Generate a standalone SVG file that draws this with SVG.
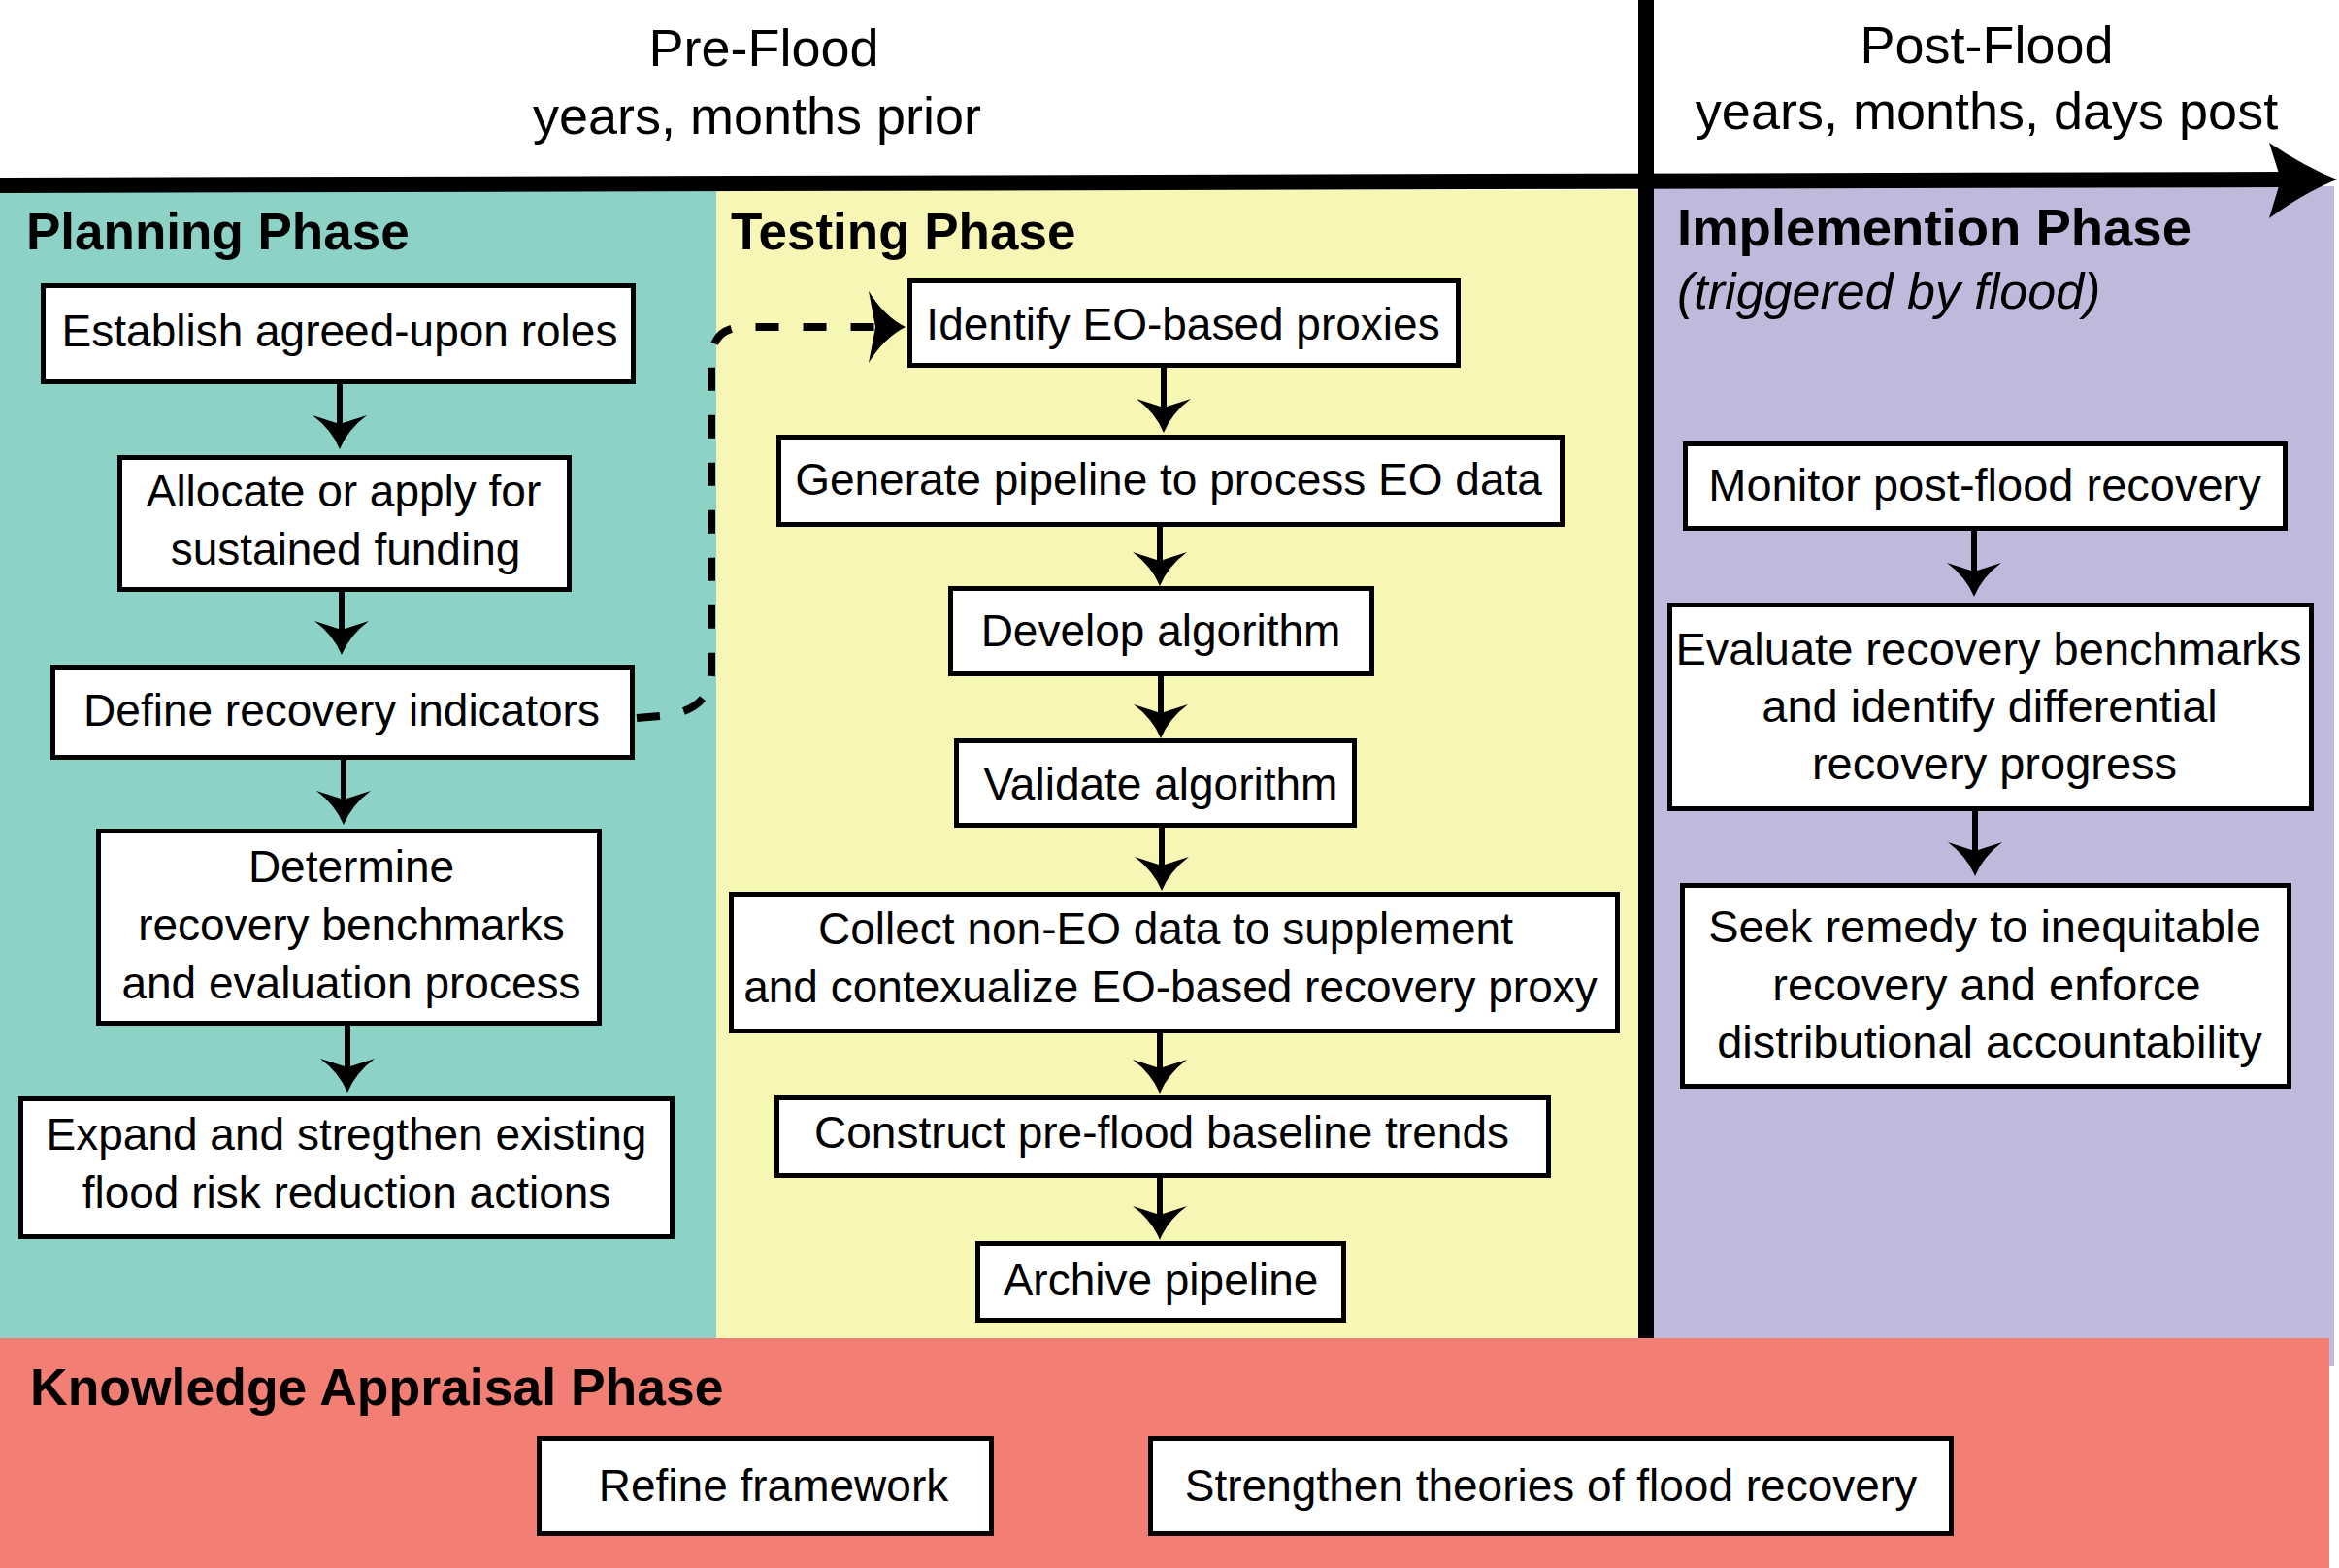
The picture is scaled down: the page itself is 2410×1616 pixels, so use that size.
<svg xmlns="http://www.w3.org/2000/svg" width="2410" height="1616" viewBox="0 0 2410 1616">
<style>
text { font-family: "Liberation Sans", Arial, sans-serif; fill: #000; }
.hdr { font-size: 54px; text-anchor: middle; }
.ph { font-size: 53px; font-weight: bold; }
.it { font-size: 52px; font-style: italic; }
.n rect { fill: #fff; stroke: #000; stroke-width: 5; }
.n text { font-size: 46px; text-anchor: middle; }
.imp text { font-size: 47px; }
#connectors line { stroke: #000; stroke-width: 6; marker-end: url(#ah); }
#connectors path.dash { fill: none; stroke: #000; stroke-width: 8; stroke-dasharray: 24 25; marker-end: url(#ahL); }
</style>
<defs>
<marker id="ah" markerUnits="userSpaceOnUse" viewBox="-38 -30 40 60" markerWidth="40" markerHeight="60" refX="-20" refY="0" orient="auto" overflow="visible">
<path d="M0,0 Q-20,-8 -35,-28 L-26,0 L-35,28 Q-20,8 0,0 Z" fill="#000"/>
</marker>
<marker id="ahL" markerUnits="userSpaceOnUse" viewBox="-40 -40 42 80" markerWidth="42" markerHeight="80" refX="-26" refY="0" orient="auto" overflow="visible">
<path d="M0,0 Q-22,-11 -38,-37 L-31,0 L-38,37 Q-22,11 0,0 Z" fill="#000"/>
</marker>
</defs>
<rect x="0" y="0" width="2410" height="1616" fill="#fff"/>
<g id="panels">
<rect x="0" y="196" width="738" height="1183" fill="#8CD2C6"/>
<rect x="738" y="196" width="952" height="1183" fill="#F8F6B4"/>
<rect x="1702" y="192" width="703" height="1216" fill="#BDBADB"/>
<rect x="0" y="1379" width="2400" height="237" fill="#F37E73"/>
</g>
<g id="timeline">
<rect x="1688" y="0" width="16" height="1379" fill="#000"/>
<path d="M0,183 L2354,177 L2354,193 L0,199 Z" fill="#000"/>
<path d="M2408,185 Q2375,172 2338,147 L2350,185 L2338,225 Q2375,198 2408,185 Z" fill="#000"/>
<text class="hdr" x="787" y="68">Pre-Flood</text>
<text class="hdr" x="780" y="138">years, months prior</text>
<text class="hdr" x="2047" y="65">Post-Flood</text>
<text class="hdr" x="2047" y="133">years, months, days post</text>
</g>
<g id="phase-titles">
<text class="ph" x="27" y="257">Planning Phase</text>
<text class="ph" x="753" y="257">Testing Phase</text>
<text class="ph" x="1728" y="253" style="font-size:54.5px">Implemention Phase</text>
<text class="it" x="1728" y="318">(triggered by flood)</text>
<text class="ph" x="31" y="1448" style="font-size:53.5px">Knowledge Appraisal Phase</text>
</g>
<g id="p1" class="n"><rect x="44.5" y="294.5" width="608" height="99"/><text x="350" y="357">Establish agreed-upon roles</text></g>
<g id="p2" class="n"><rect x="123.5" y="471.5" width="463" height="136"/><text x="354" y="522">Allocate or apply for</text><text x="356" y="582">sustained funding</text></g>
<g id="p3" class="n"><rect x="54.5" y="687.5" width="597" height="93"/><text x="352" y="748">Define recovery indicators</text></g>
<g id="p4" class="n"><rect x="101.5" y="856.5" width="516" height="198"/><text x="362" y="909">Determine</text><text x="362" y="969">recovery benchmarks</text><text x="362" y="1029">and evaluation process</text></g>
<g id="p5" class="n"><rect x="21.5" y="1132.5" width="671" height="142"/><text x="357" y="1185">Expand and stregthen existing</text><text x="357" y="1245">flood risk reduction actions</text></g>
<g id="t1" class="n"><rect x="937.5" y="289.5" width="565" height="87"/><text x="1219" y="350">Identify EO-based proxies</text></g>
<g id="t2" class="n"><rect x="802.5" y="450.5" width="807" height="90"/><text x="1204" y="510">Generate pipeline to process EO data</text></g>
<g id="t3" class="n"><rect x="979.5" y="606.5" width="434" height="88"/><text x="1196" y="666">Develop algorithm</text></g>
<g id="t4" class="n"><rect x="985.5" y="763.5" width="410" height="87"/><text x="1196" y="824">Validate algorithm</text></g>
<g id="t5" class="n"><rect x="753.5" y="921.5" width="913" height="141"/><text x="1201" y="973">Collect non-EO data to supplement</text><text x="1206" y="1033">and contexualize EO-based recovery proxy</text></g>
<g id="t6" class="n"><rect x="800.5" y="1131.5" width="795" height="80"/><text x="1197" y="1183">Construct pre-flood baseline trends</text></g>
<g id="t7" class="n"><rect x="1007.5" y="1281.5" width="377" height="79"/><text x="1196" y="1335">Archive pipeline</text></g>
<g id="i1" class="n imp"><rect x="1736.5" y="457.5" width="618" height="87"/><text x="2045" y="516">Monitor post-flood recovery</text></g>
<g id="i2" class="n imp"><rect x="1720.5" y="623.5" width="661" height="210"/><text x="2049" y="685">Evaluate recovery benchmarks</text><text x="2050" y="744">and identify differential</text><text x="2055" y="803">recovery progress</text></g>
<g id="i3" class="n imp"><rect x="1733.5" y="912.5" width="625" height="207"/><text x="2045" y="971">Seek remedy to inequitable</text><text x="2047" y="1031">recovery and enforce</text><text x="2050" y="1090">distributional accountability</text></g>
<g id="k1" class="n"><rect x="555.5" y="1482.5" width="466" height="98"/><text x="797" y="1547">Refine framework</text></g>
<g id="k2" class="n"><rect x="1185.5" y="1482.5" width="825" height="98"/><text x="1598" y="1547">Strengthen theories of flood recovery</text></g>
<g id="connectors">
<line x1="350" y1="396" x2="350" y2="443"/>
<line x1="352" y1="610" x2="352" y2="655"/>
<line x1="354" y1="783" x2="354" y2="830"/>
<line x1="358" y1="1057" x2="358" y2="1106"/>
<line x1="1199" y1="379" x2="1199" y2="426"/>
<line x1="1195" y1="543" x2="1195" y2="584"/>
<line x1="1196" y1="697" x2="1196" y2="741"/>
<line x1="1197" y1="853" x2="1197" y2="898"/>
<line x1="1195" y1="1065" x2="1195" y2="1107"/>
<line x1="1195" y1="1214" x2="1195" y2="1258"/>
<line x1="2034" y1="547" x2="2034" y2="595"/>
<line x1="2035" y1="836" x2="2035" y2="883"/>
<path class="dash" d="M656,740 L690,737 Q733,729 733,692 L733,372 Q733,337 768,337 L907,337"/>
</g>
</svg>
